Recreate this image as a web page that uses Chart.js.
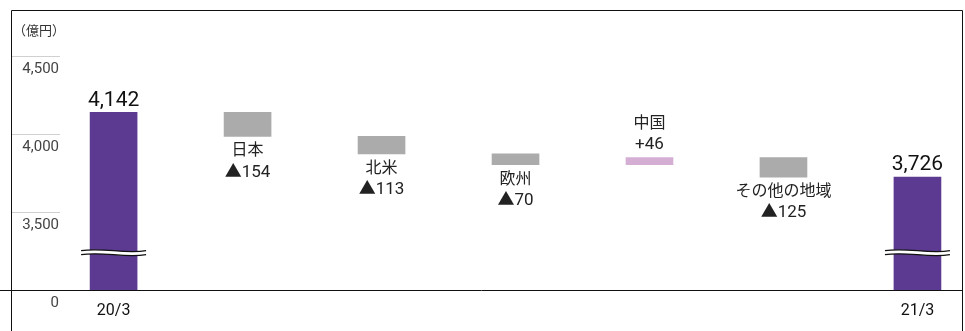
<!DOCTYPE html>
<html>
<head>
<meta charset="utf-8">
<script src="https://cdn.jsdelivr.net/npm/chart.js@4/dist/chart.umd.min.js"></script>
<style>
    body { margin: 0; background: #fff; }
    #wrap { width: 965px; height: 331px; }
</style>
</head>
<body>
<div id="wrap"><canvas id="chart-waterfall" width="965" height="331"></canvas></div>
<script>
// data (億円)
var categories = ['20/3', '日本', '北米', '欧州', '中国', 'その他の地域', '21/3'];
var totals = [4142, 3726];              // 20/3, 21/3
var changes = [-154, -113, -70, 46, -125]; // 日本, 北米, 欧州, 中国, その他の地域
var yTicks = [3000, 3500, 4000, 4500];
var yTickLabels = ['0', '3,500', '4,000', '4,500'];
var xTickLabels = { 0: '20/3', 6: '21/3' };
var axisBase = 3000;   // axis shown as "0" with a break
var axisTop = 4800;
var breakAt = 3240;
var unitLabel = '（億円）';

var FONT = "Roboto, 'Noto Sans CJK JP', sans-serif";
var PURPLE = '#5c3a91', GRAY = '#aaabaa', PINK = '#d5aed4';

// floating ranges for the waterfall
var ranges = [[axisBase, totals[0]]];
var run = totals[0];
changes.forEach(d => { ranges.push([run, run + d]); run += d; });
ranges.push([axisBase, totals[1]]);

var colors = ranges.map((r, i) => {
    if (i === 0 || i === ranges.length - 1) return PURPLE;
    return changes[i - 1] < 0 ? GRAY : PINK;
});

function changeText(d) {
    return (d < 0 ? '▲' : '+') + Math.abs(d);
}

var overlay = {
    id: 'overlay',
    afterDraw(chart) {
        var ctx = chart.ctx, area = chart.chartArea, ys = chart.scales.y;
        var meta = chart.getDatasetMeta(0);
        ctx.save();

        // frame + base line
        ctx.strokeStyle = '#111';
        ctx.lineWidth = 1;
        ctx.beginPath();
        ctx.moveTo(ys.left + 0.5, chart.height);
        ctx.lineTo(ys.left + 0.5, area.top + 0.5);
        ctx.lineTo(area.right - 0.5, area.top + 0.5);
        ctx.lineTo(area.right - 0.5, chart.height);
        var baseY = Math.round(ys.getPixelForValue(axisBase)) + 0.5;
        ctx.moveTo(0, baseY);
        ctx.lineTo(area.right, baseY);
        ctx.stroke();

        // unit
        ctx.fillStyle = '#333';
        ctx.font = '13px ' + FONT;
        ctx.textAlign = 'right';
        ctx.textBaseline = 'middle';
        ctx.fillText(unitLabel, area.left + 5, area.top + 22);

        // break marks on the total bars
        var by = ys.getPixelForValue(breakAt);
        [0, meta.data.length - 1].forEach(i => {
            var bar = meta.data[i];
            var x0 = bar.x - bar.width / 2 - 9, x1 = bar.x + bar.width / 2 + 9, w = x1 - x0;
            var wave = (off, back) => {
                if (!back) {
                    ctx.moveTo(x0, by + off);
                    ctx.bezierCurveTo(x0 + w / 3, by + off - 3.5, x0 + 2 * w / 3, by + off + 3.5, x1, by + off);
                } else {
                    ctx.lineTo(x1, by + off);
                    ctx.bezierCurveTo(x0 + 2 * w / 3, by + off + 3.5, x0 + w / 3, by + off - 3.5, x0, by + off);
                }
            };
            ctx.beginPath();
            wave(-2, false);
            wave(2, true);
            ctx.closePath();
            ctx.fillStyle = '#fff';
            ctx.fill();
            ctx.beginPath();
            wave(-2, false);
            ctx.moveTo(x0, by + 2);
            ctx.bezierCurveTo(x0 + w / 3, by + 2 - 3.5, x0 + 2 * w / 3, by + 2 + 3.5, x1, by + 2);
            ctx.strokeStyle = '#111';
            ctx.lineWidth = 1.3;
            ctx.stroke();
        });

        // value labels
        ctx.textAlign = 'center';
        ctx.textBaseline = 'middle';
        meta.data.forEach((bar, i) => {
            var top = Math.min(bar.y, bar.base), bottom = Math.max(bar.y, bar.base);
            if (i === 0 || i === meta.data.length - 1) {
                var v = i === 0 ? totals[0] : totals[1];
                ctx.font = '21px ' + FONT;
                ctx.fillStyle = '#111';
                ctx.fillText(v.toLocaleString('en-US'), bar.x, top - 12);
                return;
            }
            var d = changes[i - 1];
            ctx.font = '16px ' + FONT;
            ctx.fillStyle = '#222';
            if (d < 0) {
                ctx.fillText(categories[i], bar.x, bottom + 15);
                ctx.font = '17px ' + FONT;
                ctx.fillText(changeText(d), bar.x, bottom + 36);
            } else {
                ctx.fillText(categories[i], bar.x, top - 34);
                ctx.font = '17px ' + FONT;
                ctx.fillText(changeText(d), bar.x, top - 13);
            }
        });
        ctx.restore();
    }
};

var canvasWaterfall = document.getElementById('chart-waterfall');

var chartWaterfall = new Chart(canvasWaterfall.getContext('2d'), {
    type: 'bar',
    data: {
        datasets: [{
            data: ranges.map((r, i) => ({ x: i, y: r })),
            backgroundColor: colors,
            borderWidth: 0,
            barThickness: 47
        }]
    },
    options: {
        responsive: false,
        animation: false,
        layout: { padding: { left: 11, top: 10, right: 2, bottom: 0 } },
        plugins: {
            legend: { display: false },
            tooltip: { enabled: false }
        },
        scales: {
            x: {
                type: 'linear',
                offset: false,
                min: -0.4,
                max: 6.34,
                grid: { display: false },
                border: { display: false },
                afterBuildTicks: scale => { scale.ticks = [{ value: 0 }, { value: 6 }]; },
                afterFit: scale => { scale.height = 41; scale.paddingLeft = 0; scale.paddingRight = 0; },
                ticks: {
                    autoSkip: false,
                    maxRotation: 0,
                    padding: 3,
                    color: '#111',
                    font: { family: FONT, size: 16 },
                    callback: value => xTickLabels[value] || ''
                }
            },
            y: {
                min: axisBase,
                max: axisTop,
                border: { display: false },
                grid: {
                    drawOnChartArea: false,
                    drawTicks: true,
                    tickLength: 49,
                    color: '#d0d0d0'
                },
                afterBuildTicks: scale => { scale.ticks = yTicks.map(v => ({ value: v })); },
                afterFit: scale => { scale.width = 49; scale.paddingTop = 0; scale.paddingBottom = 0; },
                ticks: {
                    padding: -48,
                    labelOffset: 13,
                    color: '#444',
                    font: { family: FONT, size: 15 },
                    callback: value => yTickLabels[yTicks.indexOf(value)]
                }
            }
        }
    },
    plugins: [overlay]
});
</script>
</body>
</html>
